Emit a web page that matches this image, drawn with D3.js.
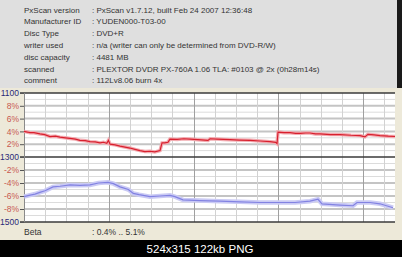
<!DOCTYPE html>
<html>
<head>
<meta charset="utf-8">
<script src="https://cdn.jsdelivr.net/npm/d3@7"></script>
<style>
  html, body { margin: 0; padding: 0; background: #000; }
  svg { display: block; font-family: "Liberation Sans", Arial, sans-serif; }
</style>
</head>
<body>
<script>
// info panel rows
var infoLabels = ["PxScan version", "Manufacturer ID", "Disc Type", "writer used",
                  "disc capacity", "scanned", "comment"];
var infoValues = ["PxScan v1.7.12, built Feb 24 2007 12:36:48", "YUDEN000-T03-00", "DVD+R",
                  "n/a (writer can only be determined from DVD-R/W)", "4481 MB",
                  "PLEXTOR DVDR PX-760A 1.06 TLA: #0103 @ 2x (0h28m14s)", "112Lv8.06 burn 4x"];

var discMB = 4481;

// jitter (%), position in MB
var jitterPos = [0, 40, 72, 120, 193, 250, 314, 380, 435, 500, 556, 620, 676, 740, 797, 860, 918, 960, 1000,
                 1020, 1039, 1100, 1160, 1220, 1280, 1340, 1401, 1460, 1522, 1580, 1643,
                 1667, 1700, 1739, 1763, 1850, 1930, 2005, 2100, 2222, 2247, 2330, 2410, 2488, 2600, 2730,
                 2851, 2971, 3040, 3056, 3068, 3140, 3213, 3280, 3334, 3400, 3454, 3520, 3575, 3700, 3817,
                 3950, 4058, 4118, 4154, 4230, 4300, 4400, 4481];
var jitter = [4.0, 3.9, 3.8, 3.8, 3.6, 3.5, 3.2, 3.25, 3.1, 3.0, 2.9, 2.8, 2.6, 2.55, 2.4, 2.35, 2.2, 2.3, 2.15,
              2.6, 2.0, 1.9, 1.7, 1.55, 1.4, 1.2, 1.0, 0.85, 0.9, 0.8, 1.0,
              2.2, 2.2, 2.3, 2.8, 2.75, 2.85, 2.8, 2.7, 2.6, 2.85, 2.8, 2.75, 2.7, 2.65, 2.6,
              2.5, 2.4, 2.3, 2.1, 3.9, 3.8, 3.8, 3.7, 3.7, 3.75, 3.75, 3.6, 3.6, 3.5, 3.5,
              3.4, 3.35, 3.15, 3.55, 3.45, 3.35, 3.25, 3.2];

// beta (%), position in MB
var betaPos = [0, 60, 133, 200, 254, 350, 435, 556, 676, 797, 900, 1015, 1080, 1160, 1260, 1320, 1390,
               1522, 1643, 1763, 1823, 1920, 2125, 2367, 2609, 2850, 3092, 3273, 3454, 3551, 3599,
               3817, 3974, 4022, 4180, 4300, 4457];
var beta = [-6.1, -5.9, -5.7, -5.4, -5.2, -4.6, -4.5, -4.3, -4.35, -4.3, -4.0, -3.9, -4.1, -4.6, -5.0,
            -5.6, -5.8, -6.1, -6.0, -5.9, -6.1, -6.6, -6.7, -6.8, -6.9, -7.0, -7.0, -7.0, -6.8, -6.5,
            -7.2, -7.4, -7.5, -7.0, -7.0, -7.2, -7.8];

var topTicks = [10, 9, 8, 7, 6, 5, 4, 3, 2, 1, 0];
var botTicks = [-1, -2, -3, -4, -5, -6, -7, -8, -9, -10];

var W = 402, H = 257;
var plot = {left: 24, right: 395, top: 93, mid: 157, bottom: 222};

var svg = d3.select("body").append("svg")
    .attr("width", W)
    .attr("height", H);

// backgrounds
svg.append("rect").attr("x", 0).attr("y", 0).attr("width", W).attr("height", 240).attr("fill", "#ede9d9");
svg.append("rect").attr("x", 0).attr("y", 0).attr("width", 397).attr("height", 88).attr("fill", "#dfdfdf");
svg.append("rect").attr("x", 397).attr("y", 0).attr("width", 5).attr("height", 88).attr("fill", "#1a1a1a");
svg.append("rect").attr("x", 0).attr("y", 240).attr("width", W).attr("height", 17).attr("fill", "#000");

// info text
var info = svg.append("g").attr("font-size", "8px").attr("fill", "#333");
info.selectAll(".lbl")
    .data(infoLabels)
  .enter().append("text")
    .attr("class", "lbl")
    .attr("x", 24)
    .attr("y", function(d, i) { return 12.5 + i * 11.8; })
    .text(function(d) { return d; });
info.selectAll(".val")
    .data(infoValues)
  .enter().append("text")
    .attr("class", "val")
    .attr("x", 92)
    .attr("y", function(d, i) { return 12.5 + i * 11.8; })
    .text(function(d) { return ":  " + d; });

var x = d3.scaleLinear().domain([0, discMB]).range([plot.left, plot.right]);
var yTop = d3.scaleLinear().domain([0, 10]).range([plot.mid, plot.top]);
var yBot = d3.scaleLinear().domain([-10, 0]).range([plot.bottom, plot.mid]);

svg.append("rect")
    .attr("x", plot.left).attr("y", plot.top)
    .attr("width", plot.right - plot.left).attr("height", plot.bottom - plot.top)
    .attr("fill", "#fff");

// horizontal grid
var grid = svg.append("g");
grid.selectAll(".ht")
    .data(topTicks.filter(function(d) { return d > 0 && d < 10; }))
  .enter().append("line")
    .attr("x1", plot.left).attr("x2", plot.right)
    .attr("y1", function(d) { return yTop(d); }).attr("y2", function(d) { return yTop(d); })
    .attr("stroke", function(d) { return d % 2 ? "#dcdcdc" : "#c4c4c4"; })
    .attr("stroke-width", function(d) { return d % 2 ? 1 : 2; });
grid.selectAll(".hb")
    .data(botTicks.filter(function(d) { return d > -10; }))
  .enter().append("line")
    .attr("x1", plot.left).attr("x2", plot.right)
    .attr("y1", function(d) { return yBot(d); }).attr("y2", function(d) { return yBot(d); })
    .attr("stroke", function(d) { return d % 2 ? "#dcdcdc" : "#c4c4c4"; })
    .attr("stroke-width", function(d) { return d % 2 ? 1 : 2; });

// vertical grid every 256 MB, darker every 1024 MB
grid.selectAll(".v")
    .data(d3.range(256, discMB, 256))
  .enter().append("line")
    .attr("x1", function(d) { return Math.round(x(d)) + 0.5; })
    .attr("x2", function(d) { return Math.round(x(d)) + 0.5; })
    .attr("y1", plot.top).attr("y2", plot.bottom)
    .attr("stroke", function(d) { return d % 1024 ? "#d2d2d2" : "#a0a0a0"; });

// frame lines 1100 / 1300 / 1500
[plot.top, plot.mid, plot.bottom].forEach(function(yy) {
  svg.append("line")
      .attr("x1", plot.left - 4).attr("x2", plot.right)
      .attr("y1", yy).attr("y2", yy)
      .attr("stroke", "#3a3a3a").attr("stroke-width", 1.5);
});
svg.append("line")
    .attr("x1", plot.left + 0.5).attr("x2", plot.left + 0.5)
    .attr("y1", plot.top).attr("y2", plot.bottom)
    .attr("stroke", "#8a8a8a");

// y labels
function fmtTop(d) { return d === 10 ? "1100" : d === 0 ? "1300" : d + "%"; }
function fmtBot(d) { return d === -10 ? "1500" : d + "%"; }

var yAxisTop = d3.axisLeft(yTop).tickValues([10, 8, 6, 4, 2, 0]).tickFormat(fmtTop).tickSize(4).tickPadding(1);
var yAxisBot = d3.axisLeft(yBot).tickValues([-2, -4, -6, -8, -10]).tickFormat(fmtBot).tickSize(4).tickPadding(1);

[[yAxisTop, fmtTop], [yAxisBot, fmtBot]].forEach(function(a) {
  var g = svg.append("g")
      .attr("transform", "translate(" + plot.left + ",0)")
      .call(a[0]);
  g.select(".domain").remove();
  g.selectAll(".tick line").attr("stroke", "#555");
  g.selectAll(".tick text")
      .attr("font-size", "8.5px")
      .attr("font-family", "Liberation Sans, Arial, sans-serif")
      .attr("fill", function(d) { return /%/.test(a[1](d)) ? "#c85a50" : "#2a2a78"; });
});

// data lines
var jitterLine = d3.line()
    .x(function(d, i) { return x(jitterPos[i]); })
    .y(function(d) { return yTop(d); });
var betaLine = d3.line()
    .x(function(d, i) { return x(betaPos[i]); })
    .y(function(d) { return yBot(d); });

svg.append("path").attr("d", jitterLine(jitter))
    .attr("fill", "none").attr("stroke", "#f2aab0").attr("stroke-width", 3.5);
svg.append("path").attr("d", jitterLine(jitter))
    .attr("fill", "none").attr("stroke", "#d8202e").attr("stroke-width", 1.2);

svg.append("path").attr("d", betaLine(beta))
    .attr("fill", "none").attr("stroke", "#cacaf4").attr("stroke-width", 4.5);
svg.append("path").attr("d", betaLine(beta))
    .attr("fill", "none").attr("stroke", "#8282e2").attr("stroke-width", 1.2);

// beta summary
svg.append("text").attr("x", 24).attr("y", 235).attr("font-size", "8.5px").attr("fill", "#333").text("Beta");
svg.append("text").attr("x", 92).attr("y", 235).attr("font-size", "8.5px").attr("fill", "#333").text(": 0.4% .. 5.1%");

// thumbnail footer
svg.append("text")
    .attr("x", 200).attr("y", 252.5)
    .attr("text-anchor", "middle")
    .attr("font-size", "11.5px")
    .attr("fill", "#fff")
    .text("524x315 122kb PNG");
</script>
</body>
</html>
